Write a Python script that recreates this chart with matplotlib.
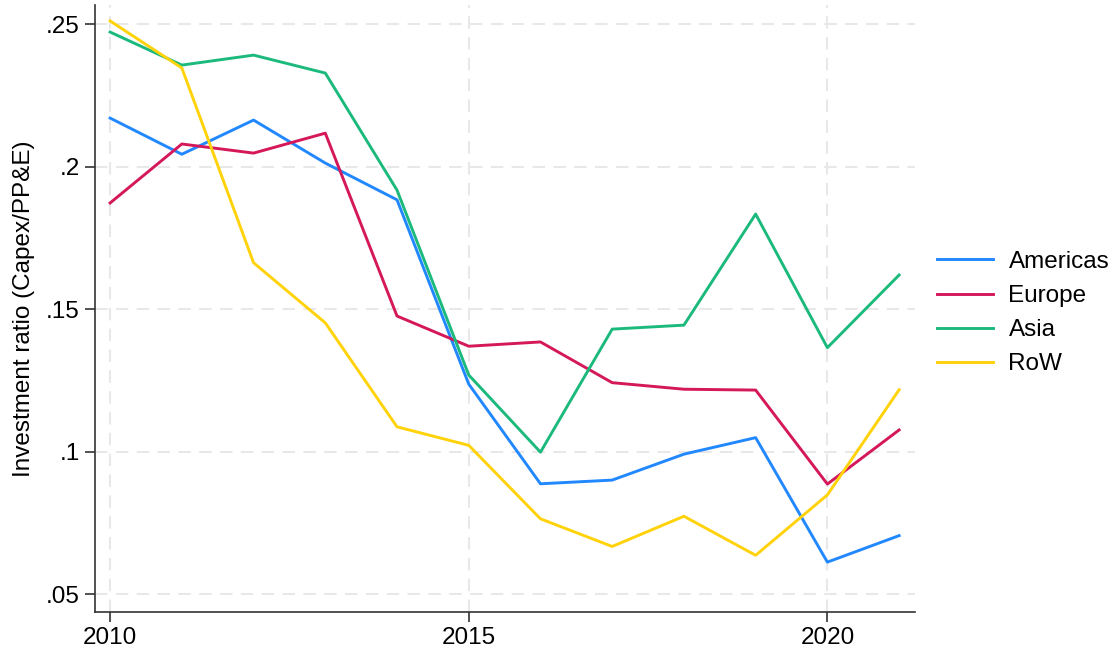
import numpy as np
import matplotlib
matplotlib.use('Agg')
import matplotlib.pyplot as plt

years = list(range(2010, 2022))
americas = [0.2171, 0.2044, 0.2164, 0.2013, 0.1884, 0.1237, 0.0887, 0.0900, 0.0991, 0.1049, 0.0612, 0.0705]
europe = [0.1873, 0.2080, 0.2048, 0.2118, 0.1476, 0.1370, 0.1385, 0.1242, 0.1219, 0.1216, 0.0886, 0.1076]
asia = [0.2473, 0.2357, 0.2392, 0.2329, 0.1918, 0.1269, 0.0998, 0.1430, 0.1444, 0.1834, 0.1365, 0.1620]
row = [0.2512, 0.2347, 0.1663, 0.1452, 0.1087, 0.1022, 0.0764, 0.0667, 0.0773, 0.0636, 0.0848, 0.1217]

yticks = [0.05, 0.1, 0.15, 0.2, 0.25]
ytick_labels = ['.05', '.1', '.15', '.2', '.25']
xticks = [2010, 2015, 2020]

plt.rcParams['font.family'] = ['Liberation Sans', 'DejaVu Sans']

fig = plt.figure(figsize=(11.13, 6.58), dpi=100)
ax = fig.add_axes([0.0854, 0.0704, 0.7366, 0.922])

series = [('Americas', americas, '#2188ff'),
          ('Europe', europe, '#d4185a'),
          ('Asia', asia, '#1bba7c'),
          ('RoW', row, '#ffd20a')]
for name, vals, col in series:
    ax.plot(years, vals, color=col, lw=2.1, label=name)

ax.set_xlim(2009.79, 2021.22)
ax.set_ylim(0.0438, 0.2568)
ax.set_xticks(xticks)
ax.set_yticks(yticks)
ax.set_yticklabels(ytick_labels)
ax.grid(True, color='#e8e8e8', ls=(0, (6, 4)), lw=1.5)
ax.set_axisbelow(True)

for s in ['top', 'right']:
    ax.spines[s].set_visible(False)
for s in ['left', 'bottom']:
    ax.spines[s].set_color('#333333')
    ax.spines[s].set_linewidth(1.2)
ax.tick_params(axis='both', labelsize=17.5, length=7, width=1.2, color='#333333', pad=4)

ax.set_ylabel('Investment ratio (Capex/PP&E)', fontsize=17.5, labelpad=8)

ax.legend(loc='center left', bbox_to_anchor=(1.0, 0.492), frameon=False, fontsize=17.5,
          handlelength=2.3, handletextpad=0.65, labelspacing=0.5)

fig.savefig('out.png', dpi=100)
